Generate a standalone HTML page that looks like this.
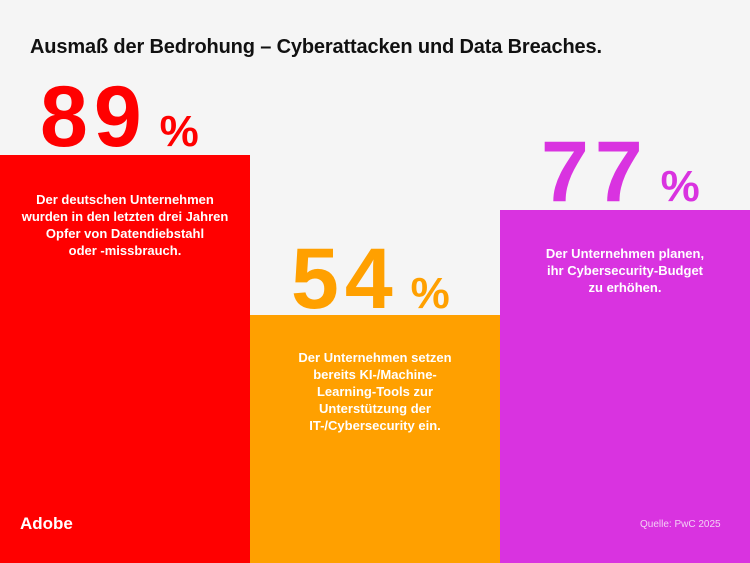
<!DOCTYPE html>
<html><head><meta charset="utf-8"><style>
body{margin:0;width:750px;height:563px;background:#f5f5f5;position:relative;overflow:hidden;font-family:"Liberation Sans",sans-serif}
.t{position:absolute;left:30px;top:36px;font-size:20px;font-weight:bold;color:#111;letter-spacing:-0.15px}
.bar{position:absolute;width:250px;bottom:0}
.num{position:absolute;font-weight:bold;font-size:86px;line-height:1;letter-spacing:6px}
.num span{font-size:44px;margin-left:12px;letter-spacing:0}
.txt{position:absolute;width:250px;text-align:center;color:#fff;font-size:13px;font-weight:bold;line-height:17px}
</style></head><body>
<div class="t">Ausmaß der Bedrohung – Cyberattacken und Data Breaches.</div>
<div class="bar" style="left:0;top:155px;background:#ff0000"></div>
<div class="bar" style="left:250px;top:315px;background:#ffa000"></div>
<div class="bar" style="left:500px;top:210px;background:#d933e0"></div>
<div class="num" style="left:40px;top:74px;color:#ff0000">89<span>%</span></div>
<div class="num" style="left:291px;top:236px;color:#ffa000">54<span>%</span></div>
<div class="num" style="left:541px;top:129px;color:#d933e0">77<span>%</span></div>
<div class="txt" style="left:0;top:191px">Der deutschen Unternehmen<br>wurden in den letzten drei Jahren<br>Opfer von Datendiebstahl<br>oder -missbrauch.</div>
<div class="txt" style="left:250px;top:349px">Der Unternehmen setzen<br>bereits KI-/Machine-<br>Learning-Tools zur<br>Unterstützung der<br>IT-/Cybersecurity ein.</div>
<div class="txt" style="left:500px;top:245px">Der Unternehmen planen,<br>ihr Cybersecurity-Budget<br>zu erhöhen.</div>
<div style="position:absolute;left:20px;top:514px;color:#fff;font-weight:bold;font-size:17px">Adobe</div>
<div style="position:absolute;left:640px;top:519px;color:#f3d0f5;font-size:10px">Quelle: PwC 2025</div>
</body></html>
